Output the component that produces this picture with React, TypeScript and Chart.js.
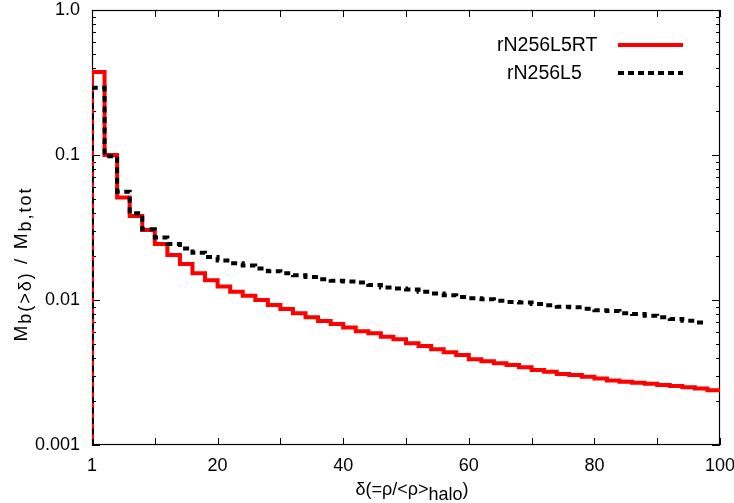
import React, { useEffect, useRef } from "react";
import { Chart, registerables } from "chart.js";

Chart.register(...registerables);

// ---- data ----
const seriesLabels = ["rN256L5RT", "rN256L5"];

const binStartRT = [
  0, 2, 4, 6, 8, 10, 12, 14, 16, 18, 20, 22, 24, 26, 28, 30, 32, 34, 36, 38,
  40, 42, 44, 46, 48, 50, 52, 54, 56, 58, 60, 62, 64, 66, 68, 70, 72, 74, 76, 78,
  80, 82, 84, 86, 88, 90, 92, 94, 96, 98,
];
const binEndRT = 100;
const valuesRT = [
  0.374, 0.1, 0.051, 0.038, 0.0304, 0.0243, 0.0204, 0.0177, 0.0153, 0.0137,
  0.0124, 0.0114, 0.0107, 0.01, 0.00924, 0.00867, 0.0081, 0.00759, 0.00716, 0.00683,
  0.00646, 0.0061, 0.00589, 0.00558, 0.00536, 0.00503, 0.00482, 0.00457, 0.00436, 0.00418,
  0.0039, 0.00378, 0.00366, 0.00356, 0.00344, 0.00329, 0.0032, 0.00309, 0.00304, 0.00296,
  0.00287, 0.00278, 0.00273, 0.00269, 0.00264, 0.00259, 0.00255, 0.0025, 0.00245, 0.00239,
];

const binStartL5 = [
  0, 2, 4, 6, 8, 10, 12, 14, 16, 18, 20, 22, 24, 26, 28, 30, 32, 34, 36, 38,
  40, 42, 44, 46, 48, 50, 52, 54, 56, 58, 60, 62, 64, 66, 68, 70, 72, 74, 76, 78,
  80, 82, 84, 86, 88, 90, 92, 94, 96,
];
const binEndL5 = 98;
const valuesL5 = [
  0.291, 0.098, 0.0558, 0.0396, 0.0307, 0.027, 0.0243, 0.0227, 0.0212, 0.0198,
  0.0187, 0.0179, 0.0173, 0.0165, 0.0158, 0.0153, 0.0148, 0.0144, 0.0139, 0.0136,
  0.0134, 0.0132, 0.0127, 0.0122, 0.012, 0.0118, 0.0114, 0.0111, 0.0108, 0.0105,
  0.0103, 0.0101, 0.0099, 0.0097, 0.0096, 0.0094, 0.0092, 0.009, 0.0089, 0.0087,
  0.0085, 0.0084, 0.0081, 0.008, 0.0078, 0.0076, 0.0074, 0.0072, 0.007,
];

const floorValue = 0.001;

const xTickValues = [0, 10, 20, 30, 40, 50, 60, 70, 80, 90, 100];
const xTickLabels = ["1", "", "20", "", "40", "", "60", "", "80", "", "100"];
const yTickValues = [0.001, 0.01, 0.1, 1];
const yTickLabels = ["0.001", "0.01", "0.1", "1.0"];
const yMinorMultipliers = [2, 3, 4, 5, 6, 7, 8, 9];

const FONT = "'Liberation Sans', Arial, Helvetica, sans-serif";

function stepPoints(starts: number[], vals: number[], end: number) {
  const pts: { x: number; y: number }[] = [{ x: starts[0], y: floorValue }];
  starts.forEach((s, i) => pts.push({ x: s, y: vals[i] }));
  pts.push({ x: end, y: vals[vals.length - 1] });
  return pts;
}

function drawRich(
  ctx: CanvasRenderingContext2D,
  parts: { t: string; size: number; dy: number }[],
  cx: number,
  cy: number,
  spacing = 0
) {
  (ctx as any).letterSpacing = `${spacing}px`;
  let total = 0;
  parts.forEach((p) => {
    ctx.font = `${p.size}px ${FONT}`;
    total += ctx.measureText(p.t).width;
  });
  let x = cx - total / 2;
  ctx.textAlign = "left";
  ctx.textBaseline = "alphabetic";
  parts.forEach((p) => {
    ctx.font = `${p.size}px ${FONT}`;
    ctx.fillText(p.t, x, cy + p.dy);
    x += ctx.measureText(p.t).width;
  });
  (ctx as any).letterSpacing = "0px";
}

const frame = {
  id: "frame",
  beforeDatasetsDraw(chart: any) {
    const { ctx, chartArea: a, scales } = chart;
    const x = scales.x;
    const y = scales.y;
    ctx.save();
    ctx.strokeStyle = "#000";
    ctx.lineWidth = 1.2;
    ctx.strokeRect(a.left + 0.5, a.top + 0.5, a.right - a.left - 1, a.bottom - a.top - 1);
    const line = (x1: number, y1: number, x2: number, y2: number) => {
      ctx.beginPath();
      ctx.moveTo(x1, y1);
      ctx.lineTo(x2, y2);
      ctx.stroke();
    };
    ctx.lineWidth = 1;
    xTickValues.forEach((v) => {
      const px = Math.round(x.getPixelForValue(v)) + 0.5;
      line(px, a.bottom, px, a.bottom - 7);
      line(px, a.top, px, a.top + 7);
    });
    yTickValues.forEach((v, i) => {
      const py = Math.round(y.getPixelForValue(v)) + 0.5;
      line(a.left, py, a.left + 8, py);
      line(a.right, py, a.right - 8, py);
      if (i < yTickValues.length - 1) {
        yMinorMultipliers.forEach((m) => {
          const my = Math.round(y.getPixelForValue(v * m)) + 0.5;
          line(a.left, my, a.left + 4, my);
          line(a.right, my, a.right - 4, my);
        });
      }
    });
    ctx.restore();
  },
  afterDraw(chart: any) {
    const { ctx } = chart;
    ctx.save();
    ctx.fillStyle = "#000";
    // legend
    const legendRows = [
      { x: 497, y: 45, color: "#ff0000", dash: [] as number[] },
      { x: 507, y: 73, color: "#000000", dash: [6, 4] },
    ];
    chart.data.datasets.forEach((ds: any, i: number) => {
      const r = legendRows[i];
      ctx.font = `19.5px ${FONT}`;
      ctx.textAlign = "left";
      ctx.textBaseline = "middle";
      ctx.fillStyle = "#000";
      ctx.fillText(ds.label, r.x, r.y + 1);
      ctx.beginPath();
      ctx.setLineDash(r.dash);
      ctx.strokeStyle = r.color;
      ctx.lineWidth = 4;
      ctx.moveTo(618, r.y);
      ctx.lineTo(683, r.y);
      ctx.stroke();
      ctx.setLineDash([]);
    });
    // x title
    ctx.fillStyle = "#000";
    drawRich(
      ctx,
      [
        { t: "δ(=ρ/<ρ>", size: 18, dy: 0 },
        { t: "halo", size: 18, dy: 5 },
        { t: ")", size: 18, dy: 0 },
      ],
      412,
      495
    );
    // y title
    ctx.save();
    ctx.translate(27, 264);
    ctx.rotate(-Math.PI / 2);
    drawRich(
      ctx,
      [
        { t: "M", size: 19, dy: 0 },
        { t: "b(>δ)", size: 18, dy: 4 },
        { t: " / M", size: 19, dy: 0 },
        { t: "b,tot", size: 18, dy: 4 },
      ],
      0,
      0,
      2
    );
    ctx.restore();
    ctx.restore();
  },
};

export default function App() {
  const ref = useRef<HTMLCanvasElement | null>(null);
  useEffect(() => {
    document.body.style.margin = "0";
    const canvas = ref.current;
    if (!canvas) return;
    const zeroPad = (s: any) => {
      s.paddingTop = 0;
      s.paddingBottom = 0;
      s.paddingLeft = 0;
      s.paddingRight = 0;
    };
    const chart = new Chart(canvas, {
      type: "line",
      data: {
        datasets: [
          {
            label: seriesLabels[0],
            data: stepPoints(binStartRT, valuesRT, binEndRT),
            borderColor: "#ff0000",
            borderWidth: 4,
            stepped: "before",
            pointRadius: 0,
            fill: false,
            order: 1,
          },
          {
            label: seriesLabels[1],
            data: stepPoints(binStartL5, valuesL5, binEndL5),
            borderColor: "#000000",
            borderWidth: 4,
            borderDash: [6, 4.5],
            stepped: "before",
            pointRadius: 0,
            fill: false,
            order: 0,
          },
        ],
      },
      options: {
        animation: false,
        responsive: false,
        devicePixelRatio: 1,
        parsing: false,
        layout: { padding: { top: 10, right: 14, left: 0, bottom: 0 } },
        plugins: {
          legend: { display: false },
          tooltip: { enabled: false },
        },
        scales: {
          x: {
            type: "linear",
            min: 0,
            max: 100,
            grid: { display: false, drawTicks: false },
            border: { display: false },
            afterBuildTicks: (s: any) => {
              s.ticks = xTickValues.map((v) => ({ value: v }));
            },
            afterFit: (s: any) => {
              s.height = 58;
              zeroPad(s);
            },
            ticks: {
              autoSkip: false,
              maxRotation: 0,
              padding: 10,
              color: "#000",
              font: { family: FONT, size: 18 },
              callback: (v: any) => {
                const i = xTickValues.indexOf(Number(v));
                return i >= 0 ? xTickLabels[i] : "";
              },
            },
          },
          y: {
            type: "logarithmic",
            min: 0.001,
            max: 1,
            grid: { display: false, drawTicks: false },
            border: { display: false },
            afterBuildTicks: (s: any) => {
              s.ticks = yTickValues.map((v) => ({ value: v }));
            },
            afterFit: (s: any) => {
              s.width = 92;
              zeroPad(s);
            },
            ticks: {
              autoSkip: false,
              padding: 12,
              color: "#000",
              font: { family: FONT, size: 18 },
              callback: (v: any) => {
                const i = yTickValues.findIndex((t) => Math.abs(t - Number(v)) < 1e-9);
                return i >= 0 ? yTickLabels[i] : "";
              },
            },
          },
        },
      },
      plugins: [frame],
    } as any);
    return () => chart.destroy();
  }, []);
  return <canvas ref={ref} width={734} height={503} style={{ display: "block" }} />;
}
